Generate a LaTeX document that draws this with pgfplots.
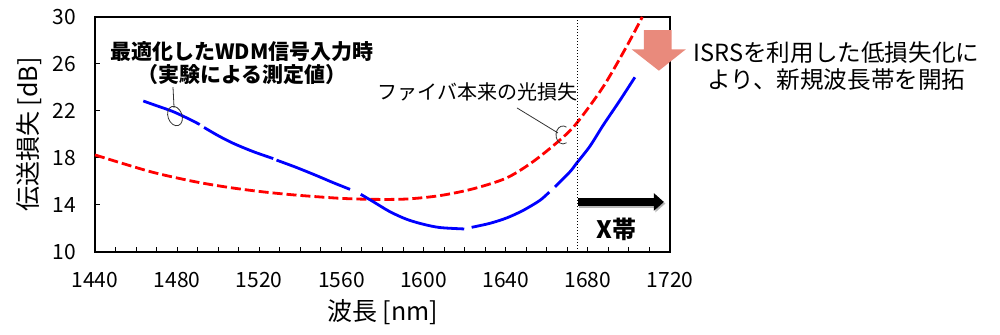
\documentclass[border=0pt]{standalone}
\usepackage{fontspec}
\setmainfont{Noto Sans CJK JP}
\usepackage{pgfplots}
\pgfplotsset{compat=1.18}
\usetikzlibrary{arrows.meta}
\definecolor{salmon}{RGB}{233,138,124}
\begin{document}
\begin{tikzpicture}
\useasboundingbox (-47.5pt,-41.5pt) rectangle (452.5pt,126pt);
\begin{axis}[
 width=287.5pt,height=117.5pt,scale only axis,
 xmin=1440,xmax=1720,ymin=10,ymax=30,
 xtick={1440,1480,...,1720}, ytick={10,14,...,30},
 minor x tick num=3,
 tick align=inside, tick pos=left,
 major tick length=2.5pt, minor tick length=2.5pt,
 tick style={black,line width=0.5pt},
 axis line style={black,line width=0.6pt},
 /pgf/number format/assume math mode=true,
 /pgf/number format/1000 sep={},
 ticklabel style={font=\fontsize{10.5}{12}\selectfont},
 xticklabel style={yshift=-6.5pt},
 yticklabel style={xshift=-6pt},
 xlabel={波長 [nm]}, ylabel={伝送損失 [dB]},
 label style={font=\fontsize{12.5}{15}\selectfont},
 xlabel style={at={(axis description cs:0.5,-0.2553)},anchor=center},
 ylabel style={at={(axis description cs:-0.1148,0.5)},anchor=center},
 clip=false,
]
% fibre intrinsic loss (red dashed)
\addplot[red,line width=1.4pt,dash pattern=on 5pt off 2pt,smooth] coordinates {
(1440,18.26) (1456,17.4) (1470,16.7) (1488.7,15.98) (1505,15.5) (1521.2,15.13)
(1537.4,14.85) (1559.3,14.57) (1575.5,14.48) (1591.8,14.51) (1608,14.8) (1624.2,15.38)
(1640.4,16.3) (1653.4,17.7) (1666.4,19.53) (1674.5,20.95) (1687.5,24.07)
(1698.8,27.47) (1706.5,30)};
% measured loss with optimised WDM input (blue segments)
\addplot[blue,line width=1.4pt,smooth] coordinates {
(1463.5,22.85) (1470,22.45) (1478,21.95) (1486,21.3) (1491,20.85)};
\addplot[blue,line width=1.4pt,smooth] coordinates {
(1493.1,20.6) (1500,19.9) (1507.3,19.25) (1517.1,18.54) (1526.8,17.95)};
\addplot[blue,line width=1.4pt,smooth] coordinates {
(1528.4,17.82) (1538,17.2) (1547.9,16.5) (1556,15.9) (1564.2,15.33)};
\addplot[blue,line width=1.4pt,smooth] coordinates {
(1569.4,14.91) (1575.5,14.28) (1583.6,13.43) (1591.8,12.78) (1599.9,12.36) (1608,12.08) (1619.8,11.96)};
\addplot[blue,line width=1.4pt,smooth] coordinates {
(1623.4,12.1) (1632.3,12.44) (1640.5,12.9) (1648.6,13.55) (1656.7,14.4) (1661.2,15.1)};
\addplot[blue,line width=1.4pt,smooth] coordinates {
(1664,15.55) (1671.3,16.83) (1674.5,17.55) (1681,19.0) (1687.5,20.8) (1695.6,22.9) (1702.9,24.87)};
% X band boundary
\draw[black,line width=0.5pt,dash pattern=on 0.6pt off 0.9pt] (axis cs:1675,10) -- (axis cs:1675,30);
% X band arrow
\draw[black!45,opacity=0.6,line width=4.3pt,-{Triangle[length=5pt,width=8.5pt]}] ([shift={(0.8pt,-0.8pt)}]axis cs:1675,14.26) -- ([shift={(0.8pt,-0.8pt)}]axis cs:1717,14.26);
\draw[black,line width=4.3pt,-{Triangle[length=5pt,width=8.5pt]}] (axis cs:1675,14.26) -- (axis cs:1717,14.26);
\node[font=\bfseries\fontsize{12}{14}\selectfont] at (axis cs:1694.1,11.96) {X帯};
% salmon down arrow
\fill[salmon] (axis cs:1707.3,28.89) -- (axis cs:1720.8,28.89) -- (axis cs:1720.8,27.25)
 -- (axis cs:1727.7,27.25) -- (axis cs:1714.6,25.43) -- (axis cs:1701.3,27.25)
 -- (axis cs:1707.3,27.25) -- cycle;
% annotations
\node[font=\bfseries\fontsize{10.5}{11.5}\selectfont,align=center] at (axis cs:1511.6,26.04)
 {最適化したWDM信号入力時\\（実験による測定値）};
\node[font=\fontsize{10}{12}\selectfont] at (axis cs:1626.2,23.62) {ファイバ本来の光損失};
\node[font=\fontsize{11.8}{13.5}\selectfont,align=center] at (axis cs:1801,25.8)
 {ISRSを利用した低損失化に\\より、新規波長帯を開拓};
% callout 1
\draw[black!80,line width=0.4pt] (axis cs:1477.98,24.04) -- (axis cs:1478.5,22.26);
\draw[black!80,line width=0.4pt,rotate around={20:(axis cs:1478.96,21.57)}] (axis cs:1478.96,21.57) ellipse[x radius=3.5pt,y radius=5pt];
% callout 2
\draw[black!80,line width=0.4pt] (axis cs:1645.5,22.26) -- (axis cs:1665.45,20.13);
\draw[black!80,line width=0.4pt] ([shift={(60:3.5pt and 4.5pt)}]axis cs:1667.9,19.96) arc[start angle=60,end angle=300,x radius=3.5pt,y radius=4.5pt];
\end{axis}
\end{tikzpicture}
\end{document}
